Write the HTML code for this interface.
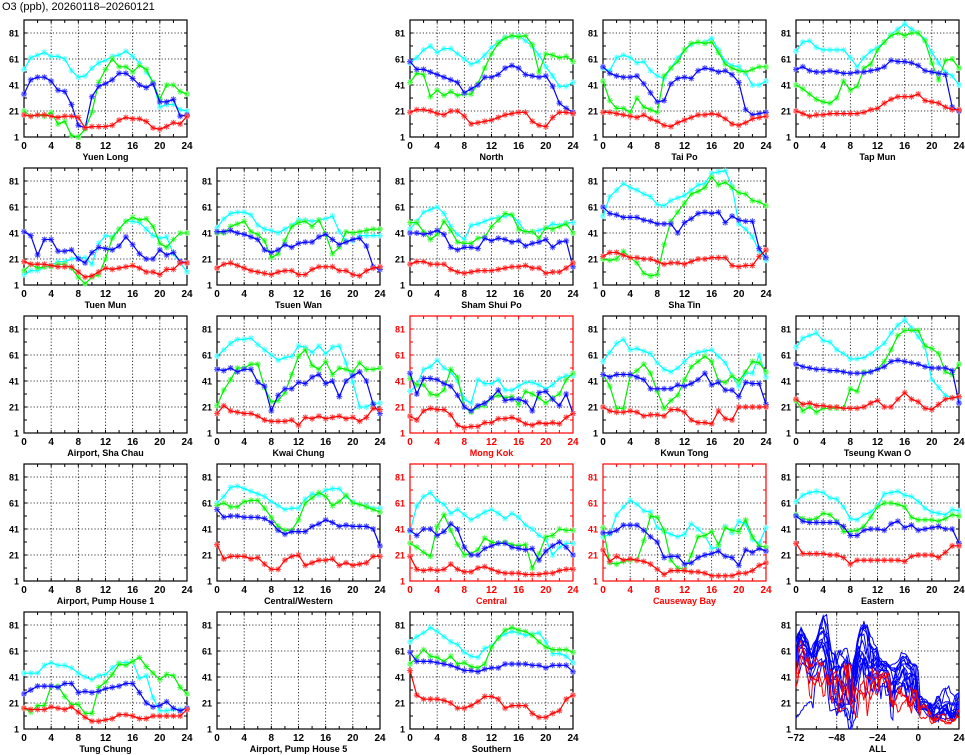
<!DOCTYPE html>
<html><head><meta charset="utf-8">
<style>
html,body{margin:0;padding:0;background:#fff;}
svg{display:block;font-family:"Liberation Sans",sans-serif;}
</style></head>
<body>
<svg id="chart" width="965" height="755" viewBox="0 0 965 755" xmlns="http://www.w3.org/2000/svg">
<text x="2" y="10" font-size="11">O3 (ppb), 20260118–20260121</text>
</svg>
<script>
const hours = [0,1,2,3,4,5,6,7,8,9,10,11,12,13,14,15,16,17,18,19,20,21,22,23,24];
const xTickLabels = ["0","4","8","12","16","20","24"];
const yTickLabels = ["1","21","41","61","81"];
const allXTickLabels = ["-72","-48","-24","0","24"];

const yuenLongD1 = [53,62,64,66,63,63,61,52,47,48,54,58,60,63,64,67,63,58,51,43,24,26,26,22,21];
const yuenLongD2 = [21,17,18,17,20,11,13,2,1,7,20,43,53,61,55,55,51,56,53,43,30,41,41,36,34];
const yuenLongD3 = [34,45,47,47,44,37,36,26,10,8,32,40,42,45,50,50,46,41,39,42,28,28,30,17,18];
const yuenLongD4 = [18,17,18,18,17,16,17,17,16,8,9,9,9,10,14,16,15,15,13,8,7,9,12,11,17];

const northD1 = [58,62,68,71,66,69,69,65,61,57,59,64,70,74,78,78,79,75,71,64,55,48,40,40,43];
const northD2 = [43,50,49,32,37,33,36,33,34,34,42,54,65,73,77,79,78,79,72,51,65,64,62,63,59];
const northD3 = [59,53,53,51,49,47,45,43,35,38,41,47,47,49,54,56,54,49,48,47,48,40,27,23,20];
const northD4 = [20,22,22,21,19,18,21,21,17,11,12,13,14,16,18,19,20,20,13,10,9,16,20,20,19];

const taiPoD1 = [54,52,62,64,62,58,59,52,48,46,54,62,68,72,74,74,77,68,59,56,55,50,41,41,44];
const taiPoD2 = [44,29,23,23,20,31,24,22,20,48,54,59,68,73,74,73,74,66,57,54,52,51,53,55,55];
const taiPoD3 = [55,50,48,47,47,48,42,35,28,29,42,46,47,46,52,54,53,51,52,49,43,22,18,19,20];
const taiPoD4 = [20,20,19,18,17,16,18,15,13,10,9,12,14,16,18,18,19,18,15,11,10,12,15,16,17];

const tapMunD1 = [67,74,75,70,68,68,68,68,62,55,62,67,70,74,80,84,88,84,81,76,66,58,51,48,41];
const tapMunD2 = [41,38,34,30,28,27,31,44,37,40,54,57,68,74,79,81,79,81,81,75,58,45,60,61,54];
const tapMunD3 = [53,55,52,51,51,52,51,50,50,51,51,52,53,55,60,59,59,58,56,52,51,50,49,24,21];
const tapMunD4 = [21,19,17,18,18,19,19,19,19,19,20,22,23,27,30,32,32,32,34,29,28,27,24,22,22];

const tuenMunD1 = [9,12,12,15,16,19,19,21,22,22,17,33,39,38,44,50,50,49,44,39,37,38,25,18,11];
const tuenMunD2 = [12,17,14,15,15,17,17,14,7,2,7,9,21,37,44,50,53,51,52,46,33,30,36,41,41];
const tuenMunD3 = [42,39,24,36,36,27,27,28,21,18,26,30,29,28,31,38,32,25,21,21,28,24,26,19,18];
const tuenMunD4 = [19,17,17,17,16,15,15,15,11,7,8,11,14,13,14,15,16,14,11,11,9,13,13,18,18];

const tsuenWanD1 = [45,52,56,57,57,55,47,44,43,41,44,47,51,51,50,51,52,54,42,35,35,39,39,39,39];
const tsuenWanD2 = [41,41,46,48,50,42,40,35,22,25,35,46,49,50,46,51,40,25,30,42,41,42,43,44,44];
const tsuenWanD3 = [42,42,43,41,40,38,36,28,26,28,32,30,33,34,34,38,40,36,32,34,36,37,31,15,13];
const tsuenWanD4 = [14,17,18,16,14,12,11,10,9,11,12,12,9,9,13,15,15,15,12,12,9,8,12,14,15];

const shamShuiPoD1 = [44,50,57,59,61,56,46,40,36,47,48,50,52,53,54,55,49,42,42,43,45,48,47,49,49];
const shamShuiPoD2 = [49,49,42,36,40,50,43,34,33,33,37,38,46,51,56,55,44,42,42,37,45,44,46,48,41];
const shamShuiPoD3 = [41,41,40,41,43,40,30,28,30,30,29,37,35,37,36,34,35,31,33,34,36,30,34,35,15];
const shamShuiPoD4 = [17,19,19,17,17,17,13,11,10,11,12,12,12,13,14,15,15,16,14,14,10,11,11,14,18];

const shaTinD1 = [54,69,74,79,76,74,71,69,63,62,66,68,70,74,78,79,87,88,89,77,48,44,38,27,20];
const shaTinD2 = [21,20,21,27,22,18,10,8,9,32,50,57,64,71,73,76,84,78,80,76,72,71,66,65,62];
const shaTinD3 = [61,56,55,53,53,53,51,50,48,48,48,41,49,52,56,57,56,57,49,54,51,50,50,29,22];
const shaTinD4 = [23,26,26,24,22,22,21,21,19,17,18,18,17,19,21,21,22,22,22,16,15,16,16,23,28];

const kwaiChungD1 = [60,65,70,73,73,74,69,65,61,57,59,60,68,67,63,68,62,67,68,55,40,21,21,24,24];
const kwaiChungD2 = [22,34,42,51,51,54,54,36,25,26,32,46,60,65,53,50,56,46,51,50,48,55,50,50,51];
const kwaiChungD3 = [50,49,51,48,50,50,40,37,18,30,35,35,40,39,44,46,39,41,29,41,45,48,41,23,16];
const kwaiChungD4 = [16,22,18,17,16,16,14,11,10,10,10,11,7,13,12,14,12,13,14,12,13,10,13,20,19];

const mongKokD1 = [33,38,50,52,57,51,48,41,27,24,42,39,39,42,34,34,37,40,40,38,35,38,43,45,45];
const mongKokD2 = [43,38,38,31,30,34,50,44,21,17,21,22,28,30,28,29,23,33,31,28,24,28,31,42,47];
const mongKokD3 = [47,31,43,43,42,39,37,30,21,18,22,24,28,34,26,27,27,25,18,32,33,27,22,31,16];
const mongKokD4 = [14,11,18,20,19,19,15,7,5,6,6,9,9,12,12,13,11,8,7,9,8,9,8,13,16];

const kwunTongD1 = [56,63,70,73,65,66,64,62,55,50,48,51,56,61,63,64,65,60,55,45,37,47,47,61,44];
const kwunTongD2 = [46,37,20,20,45,49,54,47,33,20,26,30,42,52,56,60,56,41,40,45,41,48,56,55,48];
const kwunTongD3 = [46,44,46,46,46,44,42,35,35,35,35,38,37,39,42,47,38,40,34,34,29,40,39,39,23];
const kwunTongD4 = [21,18,17,17,18,17,14,15,15,14,19,19,17,11,9,9,8,18,12,11,21,21,21,21,21];

const tseungKwanOD1 = [67,74,76,78,72,71,65,62,58,58,59,62,66,70,78,84,88,82,75,67,42,36,30,28,28];
const tseungKwanOD2 = [26,18,21,17,20,20,20,20,35,33,48,48,50,56,65,76,80,80,80,68,66,62,48,46,54];
const tseungKwanOD3 = [54,52,51,50,50,49,49,48,47,47,47,48,50,52,56,57,56,55,54,52,51,51,51,49,24];
const tseungKwanOD4 = [27,23,24,22,22,21,21,20,20,20,21,24,26,21,21,27,32,27,25,20,19,23,27,28,29];

const centralWesternD1 = [61,66,73,74,72,70,68,66,62,59,56,57,57,64,68,67,71,72,72,66,62,60,59,57,57];
const centralWesternD2 = [59,61,58,58,62,63,63,57,50,43,40,40,48,61,65,69,66,59,62,67,61,60,58,56,54];
const centralWesternD3 = [56,50,51,51,50,50,50,49,46,40,37,39,39,39,43,45,48,46,43,44,43,43,43,41,28];
const centralWesternD4 = [29,18,20,20,20,18,19,14,10,10,17,20,21,13,15,17,17,18,13,15,13,14,15,20,20];

const centralD1 = [39,59,66,69,63,60,53,56,52,48,51,54,56,53,49,53,50,44,41,36,33,21,27,30,30];
const centralD2 = [30,27,23,20,43,52,40,29,21,22,25,34,31,30,31,29,28,29,11,22,35,36,41,40,40];
const centralD3 = [40,36,41,41,36,39,45,41,27,21,21,26,28,30,30,27,26,25,26,17,24,28,31,27,21];
const centralD4 = [20,10,9,10,9,10,14,10,8,8,11,12,10,8,7,7,7,6,6,6,7,7,9,10,10];

const causewayBayD1 = [35,37,52,58,63,60,55,54,42,39,37,35,37,45,41,36,26,27,43,38,47,45,33,30,42];
const causewayBayD2 = [42,15,14,16,17,17,32,51,50,40,17,11,10,21,35,36,39,29,42,40,39,48,35,28,27];
const causewayBayD3 = [38,38,40,44,44,44,40,35,31,19,20,20,14,15,19,21,22,24,20,19,13,25,23,26,24];
const causewayBayD4 = [25,16,20,17,18,17,16,14,10,6,9,9,9,8,8,7,5,5,5,5,7,7,9,13,15];

const easternD1 = [62,67,69,70,69,65,64,58,49,48,52,54,59,68,69,70,67,66,62,57,54,53,52,56,55];
const easternD2 = [52,49,48,49,53,52,47,39,39,40,43,50,58,61,61,60,58,50,48,48,48,47,49,52,51];
const easternD3 = [51,47,46,46,46,46,46,43,36,36,40,41,41,40,45,47,42,44,40,41,42,43,41,41,30];
const easternD4 = [30,22,22,22,22,21,21,19,14,17,17,17,17,17,17,17,16,20,21,21,21,19,23,28,28];

const tungChungD1 = [44,44,44,50,52,50,50,48,44,41,39,42,43,48,52,52,53,40,42,25,15,15,16,16,17];
const tungChungD2 = [17,14,19,19,34,34,26,20,20,13,13,33,37,43,51,50,53,56,49,44,39,43,42,33,28];
const tungChungD3 = [28,31,34,34,34,33,36,36,29,30,29,30,32,33,34,36,36,29,21,18,19,22,17,15,17];
const tungChungD4 = [17,16,16,16,18,17,16,18,14,10,7,7,8,9,12,12,11,9,9,11,11,11,11,11,16];

const southernD1 = [68,72,75,79,76,72,68,66,60,57,56,63,65,71,74,76,75,73,74,75,68,59,59,57,52];
const southernD2 = [51,56,62,57,56,53,57,51,52,49,48,51,64,71,77,79,77,76,73,68,64,62,62,62,60];
const southernD3 = [60,53,53,53,52,51,50,48,46,46,45,47,48,48,51,51,51,51,50,50,48,50,50,50,45];
const southernD4 = [46,27,24,24,24,23,21,17,17,19,22,26,26,24,17,19,19,19,13,10,10,13,15,24,27];

const stations = [
 {name:"Yuen Long", slug:"yuen-long", r:0,c:0, road:false, d:[yuenLongD1,yuenLongD2,yuenLongD3,yuenLongD4]},
 {name:"North", slug:"north", r:0,c:2, road:false, d:[northD1,northD2,northD3,northD4]},
 {name:"Tai Po", slug:"tai-po", r:0,c:3, road:false, d:[taiPoD1,taiPoD2,taiPoD3,taiPoD4]},
 {name:"Tap Mun", slug:"tap-mun", r:0,c:4, road:false, d:[tapMunD1,tapMunD2,tapMunD3,tapMunD4]},
 {name:"Tuen Mun", slug:"tuen-mun", r:1,c:0, road:false, d:[tuenMunD1,tuenMunD2,tuenMunD3,tuenMunD4]},
 {name:"Tsuen Wan", slug:"tsuen-wan", r:1,c:1, road:false, d:[tsuenWanD1,tsuenWanD2,tsuenWanD3,tsuenWanD4]},
 {name:"Sham Shui Po", slug:"sham-shui-po", r:1,c:2, road:false, d:[shamShuiPoD1,shamShuiPoD2,shamShuiPoD3,shamShuiPoD4]},
 {name:"Sha Tin", slug:"sha-tin", r:1,c:3, road:false, d:[shaTinD1,shaTinD2,shaTinD3,shaTinD4]},
 {name:"Airport, Sha Chau", slug:"airport-sha-chau", r:2,c:0, road:false, d:null},
 {name:"Kwai Chung", slug:"kwai-chung", r:2,c:1, road:false, d:[kwaiChungD1,kwaiChungD2,kwaiChungD3,kwaiChungD4]},
 {name:"Mong Kok", slug:"mong-kok", r:2,c:2, road:true, d:[mongKokD1,mongKokD2,mongKokD3,mongKokD4]},
 {name:"Kwun Tong", slug:"kwun-tong", r:2,c:3, road:false, d:[kwunTongD1,kwunTongD2,kwunTongD3,kwunTongD4]},
 {name:"Tseung Kwan O", slug:"tseung-kwan-o", r:2,c:4, road:false, d:[tseungKwanOD1,tseungKwanOD2,tseungKwanOD3,tseungKwanOD4]},
 {name:"Airport, Pump House 1", slug:"airport-pump-house-1", r:3,c:0, road:false, d:null},
 {name:"Central/Western", slug:"central-western", r:3,c:1, road:false, d:[centralWesternD1,centralWesternD2,centralWesternD3,centralWesternD4]},
 {name:"Central", slug:"central", r:3,c:2, road:true, d:[centralD1,centralD2,centralD3,centralD4]},
 {name:"Causeway Bay", slug:"causeway-bay", r:3,c:3, road:true, d:[causewayBayD1,causewayBayD2,causewayBayD3,causewayBayD4]},
 {name:"Eastern", slug:"eastern", r:3,c:4, road:false, d:[easternD1,easternD2,easternD3,easternD4]},
 {name:"Tung Chung", slug:"tung-chung", r:4,c:0, road:false, d:[tungChungD1,tungChungD2,tungChungD3,tungChungD4]},
 {name:"Airport, Pump House 5", slug:"airport-pump-house-5", r:4,c:1, road:false, d:null},
 {name:"Southern", slug:"southern", r:4,c:2, road:false, d:[southernD1,southernD2,southernD3,southernD4]}
];

const NS = "http://www.w3.org/2000/svg";
const svg = document.getElementById("chart");
const colLeft = [24,217,410,603,796];
const rowTop = [20,168,316,464,612];
const PW = 163, PH = 117;
const seriesColors = ["#00ffff","#00ee00","#0000ff","#ff0000"];
const markerColors = ["#70ffff","#60ff60","#5050ff","#ff5050"];
const seriesNames = ["day1","day2","day3","day4"];

function mk(tag, attrs, parent){
  const e = document.createElementNS(NS, tag);
  for (const k in attrs) e.setAttribute(k, attrs[k]);
  (parent||svg).appendChild(e);
  return e;
}
function xScale(h, p, x0, x1){ return p.x + (h - x0) / (x1 - x0) * p.w; }
function yScale(v, p){ return p.y + p.h - (v - 1) / 90 * p.h; }

function drawFrame(p, g, fc, xmin, xmax, xGrid, xMinor, xLabels, title){
  let gd = "";
  xGrid.forEach(h => { const x = xScale(h,p,xmin,xmax); gd += `M${x},${p.y}V${p.y+p.h}`; });
  [21,41,61,81].forEach(v => { const y = yScale(v,p); gd += `M${p.x},${y}H${p.x+p.w}`; });
  const grid = mk("path",{d:gd, stroke:"#000", "stroke-width":"0.8", "stroke-dasharray":"1.2,2", fill:"none"}, g);
  
  
  let td = "";
  xMinor.forEach(h => { const x = xScale(h,p,xmin,xmax); td += `M${x},${p.y+p.h}v-3M${x},${p.y}v3`; });
  [1,11,21,31,41,51,61,71,81,91].forEach(v => { const y = yScale(v,p); td += `M${p.x},${y}h3M${p.x+p.w},${y}h-3`; });
  const ticks = mk("path",{d:td, stroke:fc, "stroke-width":"1", fill:"none"}, g);
  
  
  const fr = mk("rect",{x:p.x, y:p.y, width:p.w, height:p.h, fill:"none", stroke:fc, "stroke-width":"1.2"}, g);
  
  
  yTickLabels.forEach(lbl => {
    const t = mk("text",{x:p.x-5, y:yScale(+lbl,p)+3.5, "text-anchor":"end", "font-size":"9", "font-weight":"bold", fill:fc}, g);
    t.textContent = lbl;
    
    
  });
  xLabels.forEach(lbl => {
    const t = mk("text",{x:xScale(+lbl,p,xmin,xmax), y:p.y+p.h+12, "text-anchor":"middle", "font-size":"10", "font-weight":"bold", fill:fc}, g);
    t.textContent = lbl.replace("-","−");
    
    
  });
  const tt = mk("text",{x:p.x+p.w/2, y:p.y+p.h+23, "text-anchor":"middle", "font-size":"9", "font-weight":"bold", fill:fc}, g);
  tt.textContent = title;
  
  
}

stations.forEach(st => {
  const p = {x:colLeft[st.c], y:rowTop[st.r], w:PW, h:PH};
  const fc = st.road ? "#ff0000" : "#000";
  const g = mk("g",{});
  
  
  drawFrame(p, g, fc, 0, 24, [4,8,12,16,20], [2,4,6,8,10,12,14,16,18,20,22], xTickLabels, st.name);
  if (!st.d) return;
  st.d.forEach((vals, si) => {
    let ld = "", md = "";
    vals.forEach((v, i) => {
      const x = xScale(hours[i], p, 0, 24), y = yScale(v, p);
      ld += (i ? "L" : "M") + x.toFixed(1) + "," + y.toFixed(1);
      md += `M${x-3},${y}h6M${x},${y-3}v6M${x-2.2},${y-2.2}l4.4,4.4M${x-2.2},${y+2.2}l4.4,-4.4`;
    });
    const m = mk("path",{d:md, stroke:markerColors[si], "stroke-width":"1.1", fill:"none"}, g);
    
    
    const l = mk("path",{d:ld, stroke:seriesColors[si], "stroke-width":"1.2", fill:"none"}, g);
    
    
  });
});

(function(){
  const p = {x:colLeft[4], y:rowTop[4], w:PW, h:PH};
  const g = mk("g",{});
  
  
  drawFrame(p, g, "#000", -72, 24, [-48,-24,0], [-60,-48,-36,-24,-12,0,12], allXTickLabels, "ALL");
  const order = stations.filter(s => s.d && !s.road).concat(stations.filter(s => s.d && s.road));
  order.forEach(st => {
    let ld = "";
    st.d.forEach((vals, di) => {
      vals.forEach((v, i) => {
        if (di > 0 && i === 0) return;
        const x = xScale(-72 + di*24 + hours[i], p, -72, 24), y = yScale(v, p);
        ld += (ld ? "L" : "M") + x.toFixed(1) + "," + y.toFixed(1);
      });
    });
    const l = mk("path",{d:ld, stroke:st.road ? "#ff0000" : "#0000ff", "stroke-width":"1", fill:"none"}, g);
    
    
  });
})();
</script>
</body></html>
